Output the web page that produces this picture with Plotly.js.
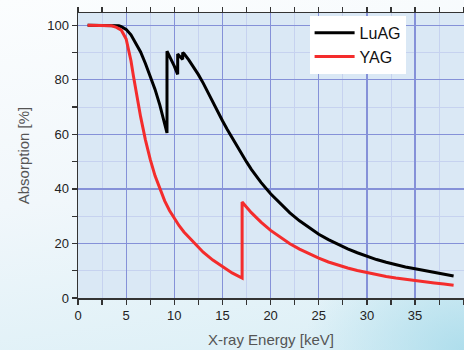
<!DOCTYPE html>
<html>
<head>
<meta charset="utf-8">
<script src="https://cdn.plot.ly/plotly-3.0.1.min.js"></script>
<style>
html,body{margin:0;padding:0;}
#chart{width:464px;height:350px;
background:
 radial-gradient(ellipse 160px 120px at 464px 350px, rgba(170,220,235,0.9), rgba(200,232,242,0) 100%),
 linear-gradient(172deg, #fbfdfe 0%, #f1f7fb 50%, #dbeff6 100%);}
</style>
</head>
<body>
<div id="chart"></div>
<script>
const energyLuAG = [1,2,3,3.5,3.75,4,4.25,4.5,5,5.5,6,6.5,7,7.5,8,8.5,9,9.24,9.24,9.6,10.0,10.35,10.35,10.6,10.87,10.87,11,11.5,12,12.5,13,13.5,14,14.5,15,15.5,16,16.5,17,17.5,18,19,20,21,22,23,24,25,26,27,28,29,30,31,32,33,34,35,36,37,38,39];
const absLuAG = [100,100,100,100,100,99.9,99.8,99.5,98.5,96.5,93.5,90.2,86,81.5,76.5,70.7,64.3,60.5,90.5,88,85,82,89.5,88.5,87.5,90,89.6,87.3,84.8,81.9,78.8,75.3,71.6,68.3,65.0,61.8,58.7,55.7,52.7,49.9,47.2,42.4,38.2,34.5,31.2,28.3,25.7,23.4,21.4,19.6,18.0,16.6,15.3,14.1,13.1,12.2,11.4,10.7,10.0,9.3,8.7,8.1];

const energyYAG = [1,2,3,3.5,4,4.5,5,5.25,5.5,5.75,6,6.5,7,7.5,8,8.5,9,9.5,10,10.5,11,12,13,14,15,16,17.04,17.04,18,19,20,21,22,23,24,25,26,27,28,29,30,31,32,33,34,35,36,37,38,39];
const absYAG = [100,100,100,99.8,99.2,98.2,95,91.5,87,81.5,76,66.5,58,50.8,44.8,39.8,35.6,32.1,29.1,26.5,24.2,20.3,16.8,13.9,11.4,9.2,7.3,35.2,31.3,27.8,24.8,22.2,19.9,17.9,16.1,14.6,13.2,12.0,11.0,10.1,9.3,8.6,7.9,7.3,6.8,6.3,5.9,5.5,5.1,4.7];

const xTicks = [0,5,10,15,20,25,30,35,40];
const yTicks = [0,20,40,60,80,100];

const traces = [
  {x: energyLuAG, y: absLuAG, name: 'LuAG', type: 'scatter', mode: 'lines',
   line: {color: '#000000', width: 3}},
  {x: energyYAG, y: absYAG, name: 'YAG', type: 'scatter', mode: 'lines',
   line: {color: '#f42c2c', width: 3}}
];

const axisFont = {family: 'Liberation Sans, Arial, sans-serif', size: 13, color: '#222'};
const layout = {
  width: 464, height: 350,
  margin: {l: 78, r: 0, t: 13, b: 52, pad: 0},
  paper_bgcolor: 'rgba(0,0,0,0)',
  plot_bgcolor: '#dae8f5',
  showlegend: true,
  legend: {x: 0.60, y: 0.99, xanchor: 'left', yanchor: 'top',
    bgcolor: '#ffffff', borderwidth: 0,
    font: {family: 'Liberation Sans, Arial, sans-serif', size: 16, color: '#111'},
    tracegroupgap: 0, itemwidth: 40},
  xaxis: {
    range: [0, 40.08], tickvals: xTicks, ticktext: xTicks.map(String),
    tickfont: axisFont, ticks: 'outside', ticklen: 5, tickwidth: 1.2, tickcolor: '#333',
    showline: true, linecolor: '#333', linewidth: 1.5, mirror: 'ticks',
    showgrid: true, gridcolor: '#8591d8', gridwidth: 1.2, zeroline: false,
    minor: {dtick: 2.5, tick0: 0, showgrid: true, gridcolor: '#c6d2ef', gridwidth: 1, ticks: 'outside', ticklen: 5, tickcolor: '#333'},
    title: {text: 'X-ray Energy [keV]', standoff: 12,
      font: {family: 'Liberation Sans, Arial, sans-serif', size: 15, color: '#555'}}
  },
  yaxis: {
    range: [0, 104.5], tickvals: yTicks, ticktext: yTicks.map(String),
    tickfont: axisFont, ticks: 'outside', ticklen: 5, tickwidth: 1.2, tickcolor: '#333',
    showline: true, linecolor: '#333', linewidth: 1.5,
    showgrid: true, gridcolor: '#8591d8', gridwidth: 1.2, zeroline: false,
    minor: {dtick: 10, tick0: 0, showgrid: true, gridcolor: '#c6d2ef', gridwidth: 1, ticks: 'outside', ticklen: 5, tickcolor: '#333'},
    title: {text: 'Absorption [%]', standoff: 14,
      font: {family: 'Liberation Sans, Arial, sans-serif', size: 15, color: '#555'}}
  }
};

Plotly.newPlot('chart', traces, layout, {staticPlot: true, displayModeBar: false});
</script>
</body>
</html>
